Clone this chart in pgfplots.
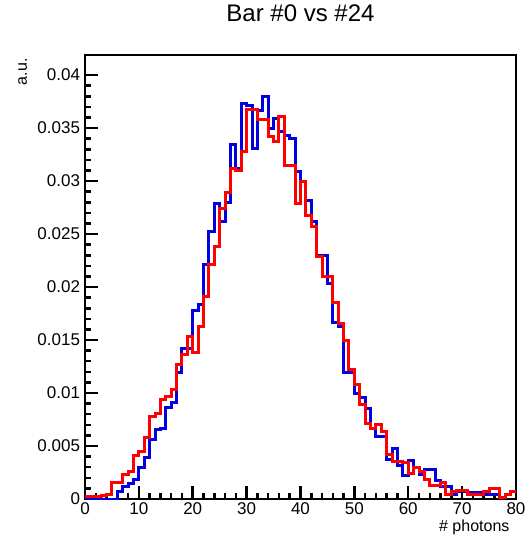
\documentclass[border=0pt]{standalone}
\usepackage{pgfplots}
\usepackage{pgfplotstable}
\pgfplotsset{compat=1.18}
\usepackage{fontspec}
\setmainfont{Liberation Sans}
\definecolor{rootblue}{RGB}{0,0,225}
\definecolor{rootred}{RGB}{255,0,0}

\pgfplotstableread{
x blue red
0 0 0.0002
1 0 0.0002
2 0 0.0002
3 0 0.0003
4 0 0.0004
5 0 0.0016
6 0.0007 0.0016
7 0.0012 0.0023
8 0.0015 0.0026
9 0.0018 0.0041
10 0.0030 0.0045
11 0.0039 0.0058
12 0.0056 0.0078
13 0.0066 0.0081
14 0.0067 0.0094
15 0.0086 0.0097
16 0.0091 0.0103
17 0.0119 0.0127
18 0.0142 0.0136
19 0.0142 0.0153
20 0.0178 0.0138
21 0.0184 0.0163
22 0.0221 0.0191
23 0.0252 0.0221
24 0.0279 0.0238
25 0.0262 0.0274
26 0.0280 0.0289
27 0.0335 0.0312
28 0.0312 0.0310
29 0.0373 0.0328
30 0.0371 0.0368
31 0.0331 0.0368
32 0.0367 0.0358
33 0.0380 0.0358
34 0.0350 0.0342
35 0.0359 0.0337
36 0.0347 0.0361
37 0.0343 0.0315
38 0.0340 0.0315
39 0.0309 0.0279
40 0.0300 0.0300
41 0.0282 0.0268
42 0.0262 0.0257
43 0.0230 0.0229
44 0.0230 0.0210
45 0.0203 0.0210
46 0.0167 0.0185
47 0.0163 0.0166
48 0.0119 0.0150
49 0.0119 0.0122
50 0.0100 0.0108
51 0.0096 0.0089
52 0.0085 0.0071
53 0.0067 0.0067
54 0.0059 0.0070
55 0.0059 0.0064
56 0.0037 0.0042
57 0.0048 0.0035
58 0.0032 0.0035
59 0.0022 0.0034
60 0.0036 0.0024
61 0.0030 0.0030
62 0.0023 0.0026
63 0.0028 0.0018
64 0.0028 0.0013
65 0.0017 0.0013
66 0.0012 0.0016
67 0.0012 0.0004
68 0.0004 0.0007
69 0.0007 0.0008
70 0.0007 0.0008
71 0.0006 0.0004
72 0.0006 0.0004
73 0.0006 0.0004
74 0.0004 0.0007
75 0.0004 0.0010
76 0.0004 0.0010
77 0.0001 0.0001
78 0.0004 0.0004
79 0.0007 0.0007
80 0.0007 0.0007
}\histdata

\begin{document}
\begin{tikzpicture}
\begin{axis}[
  width=431pt, height=444pt, scale only axis,
  xmin=0, xmax=80, ymin=0, ymax=0.0419,
  axis line style={line width=2.5pt, black},
  xtick={0,10,...,80},
  minor x tick num=4,
  ytick={0,0.005,0.01,0.015,0.02,0.025,0.03,0.035,0.04},
  yticklabels={0,0.005,0.01,0.015,0.02,0.025,0.03,0.035,0.04},
  minor y tick num=4,
  scaled y ticks=false,
  tick align=inside,
  xtick pos=bottom, ytick pos=left,
  major tick length=13pt, minor tick length=6.5pt,
  every tick/.style={line width=2.5pt, black},
  /pgf/number format/assume math mode=true,
  ticklabel style={font=\fontsize{17}{20}\selectfont},
  yticklabel style={xshift=-1.5pt},
  title={Bar \#0 vs \#24},
  title style={font=\fontsize{24}{28}\selectfont, at={(axis description cs:0.5,1.063)}, anchor=base},
  xlabel={\# photons},
  xlabel style={font=\fontsize{16}{19}\selectfont, at={(axis description cs:0.993,-0.0743)}, anchor=base east},
  ylabel={a.u.},
  ylabel style={font=\fontsize{16}{19}\selectfont, at={(axis description cs:-0.1346,1)}, anchor=base east, rotate=0},
]
\addplot[const plot, rootblue, line width=3pt] table[x=x, y=blue] {\histdata};
\addplot[const plot, rootred, line width=3pt] table[x=x, y=red] {\histdata};
\coordinate (ll) at (rel axis cs:0,0);
\end{axis}
\pgfresetboundingbox
\path[use as bounding box] ([xshift=-85pt,yshift=-45pt]ll) rectangle ++(525pt,544pt);
\end{tikzpicture}
\end{document}
